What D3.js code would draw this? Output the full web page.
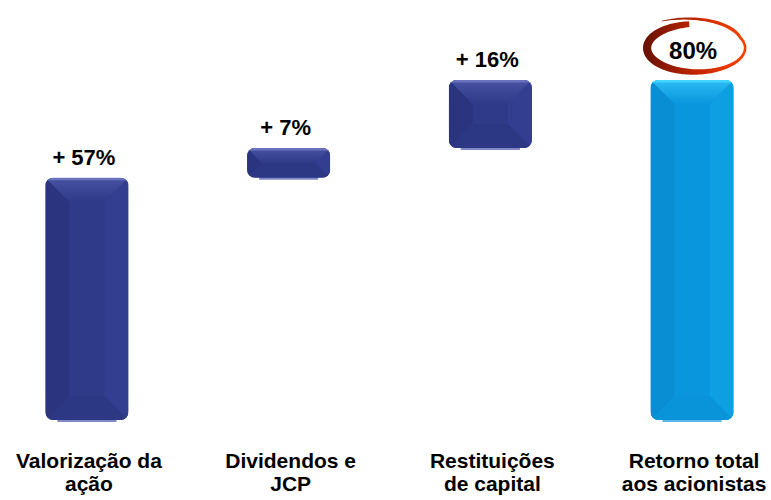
<!DOCTYPE html>
<html>
  <head>
    <meta charset="UTF-8">
    <title>Retorno total aos acionistas</title>
    <script src="https://d3js.org/d3.v7.min.js"></script>
    <style>
      body { margin: 0; background: #fff; }
      svg { display: block; font-family: "Liberation Sans", Arial, Helvetica, sans-serif; }
    </style>
  </head>
  <body>
    <svg width="771" height="500"></svg>
    <script>

    // tick labels, as broken on the slide
    var categories = [
      ["Valorização da", "ação"],
      ["Dividendos e", "JCP"],
      ["Restituições", "de capital"],
      ["Retorno total", "aos acionistas"]
    ];
    var values = [57, 7, 16, 80];            // %
    var isTotal = [false, false, false, true];
    var valueLabels = ["+ 57%", "+ 7%", "+ 16%", "80%"];

    var svg = d3.select("svg"),
        width = +svg.attr("width"),
        height = +svg.attr("height");

    // waterfall: steps pile on each other, the total starts from zero
    var run = 0;
    var bars = values.map(function(v, i) {
      var b = {i: i, value: v, total: isTotal[i], label: valueLabels[i], lines: categories[i]};
      if (b.total) { b.y0 = 0; b.y1 = v; }
      else { b.y0 = run; b.y1 = run + v; run += v; }
      return b;
    });

    var x = d3.scaleBand()
      .domain(d3.range(categories.length))
      .range([4, width + 4])
      .paddingInner(0.588)
      .paddingOuter(0.205);

    var y = d3.scaleLinear()
      .domain([0, d3.max(bars, function(d) { return d.y1; })])
      .range([420, 80]);

    var navy = {base: "#2f3a89", light: "#6a73bf", top: "#4852a2", dark: "#2b357f", side: "#343e91", bottom: "#2d3885", glow: "#8088c8"},
        blue = {base: "#0996dc", light: "#44d4ff", top: "#2cbcf4", dark: "#0a8ed3", side: "#0e9ee2", bottom: "#0993d8", glow: "#5cb8e8"};

    var defs = svg.append("defs");
    [["navy", navy], ["blue", blue]].forEach(function(p) {
      var gr = defs.append("linearGradient").attr("id", "top-" + p[0])
        .attr("x1", 0).attr("y1", 0).attr("x2", 0).attr("y2", 1);
      gr.append("stop").attr("offset", 0).attr("stop-color", p[1].top);
      gr.append("stop").attr("offset", 1).attr("stop-color", p[1].base);
    });
    var ring = defs.append("linearGradient").attr("id", "ring")
      .attr("gradientUnits", "userSpaceOnUse");
    ring.append("stop").attr("offset", 0).attr("stop-color", "#6a1200");
    ring.append("stop").attr("offset", 0.5).attr("stop-color", "#c42600");
    ring.append("stop").attr("offset", 1).attr("stop-color", "#ff4400");

    var g = svg.append("g");

    var bar = g.selectAll(".bar")
      .data(bars)
      .enter().append("g")
      .attr("class", "bar");

    bar.each(function(d) {
      var sel = d3.select(this),
          pal = d.total ? blue : navy,
          bx = x(d.i), bw = x.bandwidth(),
          top = y(d.y1), bot = y(d.y0), bh = bot - top,
          dd = Math.min(bh / 2, bw / 2, 24);

      // soft reflection under the bar
      sel.append("rect")
        .attr("x", bx + 12).attr("y", bot - 2)
        .attr("width", bw - 24).attr("height", 4)
        .attr("fill", pal.glow);

      defs.append("clipPath").attr("id", "clip" + d.i)
        .append("rect")
        .attr("x", bx).attr("y", top).attr("width", bw).attr("height", bh)
        .attr("rx", 8);

      var face = sel.append("g").attr("clip-path", "url(#clip" + d.i + ")");
      face.append("rect")
        .attr("x", bx).attr("y", top).attr("width", bw).attr("height", bh)
        .attr("fill", pal.base);

      var poly = function(pts, fill) {
        face.append("polygon")
          .attr("points", pts.map(function(p) { return p.join(","); }).join(" "))
          .attr("fill", fill);
      };
      poly([[bx, top], [bx + dd, top + dd], [bx + dd, bot - dd], [bx, bot]], pal.dark);
      poly([[bx + bw, top], [bx + bw, bot], [bx + bw - dd, bot - dd], [bx + bw - dd, top + dd]], pal.side);
      poly([[bx, bot], [bx + dd, bot - dd], [bx + bw - dd, bot - dd], [bx + bw, bot]], pal.bottom);
      poly([[bx, top], [bx + bw, top], [bx + bw - dd, top + dd], [bx + dd, top + dd]],
        "url(#top-" + (d.total ? "blue" : "navy") + ")");

      face.append("rect")
        .attr("x", bx).attr("y", top).attr("width", bw).attr("height", 2.5)
        .attr("fill", pal.light);
    });

    // value labels on the steps
    bar.filter(function(d) { return !d.total; })
      .append("text")
      .attr("x", function(d) { return x(d.i) + x.bandwidth() / 2 - 3; })
      .attr("y", function(d) { return y(d.y1) - 13; })
      .attr("text-anchor", "middle")
      .attr("font-size", 22)
      .attr("font-weight", "bold")
      .attr("fill", "#000")
      .text(function(d) { return d.label; });

    // circled total
    var tot = bars.filter(function(d) { return d.total; })[0],
        cx = x(tot.i) + x.bandwidth() / 2 + 4,
        cy = y(tot.y1) - 33;

    function swoosh(cx, cy, rx, ry) {
      var n = 160, a0 = 262, a1 = -122, outer = [], inner = [];
      for (var k = 0; k <= n; k++) {
        var t = k / n,
            a = (a0 + (a1 - a0) * t) * Math.PI / 180,
            s = 1 + Math.max(0, t - 0.75) / 0.25 * 0.32,
            px = cx + rx * s * Math.cos(a),
            py = cy + ry * s * Math.sin(a),
            w = (5.4 - 2.8 * Math.cos(a)) * (t > 0.8 ? 1 - (t - 0.8) / 0.2 * 0.9 : 1),
            tx = -rx * s * Math.sin(a), ty = ry * s * Math.cos(a),
            len = Math.sqrt(tx * tx + ty * ty),
            nx = ty / len, ny = -tx / len;
        outer.push([px + nx * w / 2, py + ny * w / 2]);
        inner.push([px - nx * w / 2, py - ny * w / 2]);
      }
      return d3.line()(outer.concat(inner.reverse())) + "Z";
    }

    ring.attr("x1", cx - 50).attr("x2", cx + 52).attr("y1", 0).attr("y2", 0);
    svg.append("path")
      .attr("d", swoosh(cx, cy + 1, 49, 24))
      .attr("fill", "url(#ring)");

    svg.append("text")
      .attr("x", cx - 3)
      .attr("y", y(tot.y1) - 21)
      .attr("text-anchor", "middle")
      .attr("font-size", 24)
      .attr("font-weight", "bold")
      .attr("fill", "#000")
      .text(tot.label);

    // category axis labels
    var cat = svg.append("g").selectAll("text")
      .data(bars)
      .enter().append("text")
      .attr("text-anchor", "middle")
      .attr("font-size", 21)
      .attr("font-weight", "bold")
      .attr("fill", "#000");

    cat.selectAll("tspan")
      .data(function(d) { return d.lines.map(function(l) { return {d: d, l: l}; }); })
      .enter().append("tspan")
      .attr("x", function(o) { return x(o.d.i) + x.bandwidth() / 2 + 2; })
      .attr("y", function(o, j) { return 468 + j * 23; })
      .text(function(o) { return o.l; });

    </script>
  </body>
</html>
